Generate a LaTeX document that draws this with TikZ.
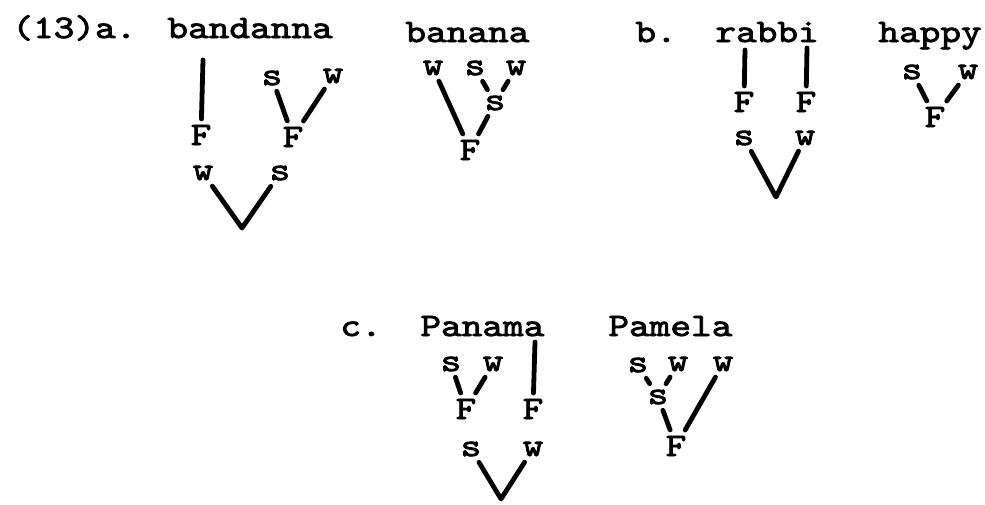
\documentclass[tikz,border=0pt]{standalone}
\usepackage{fontspec}
\usepackage{tikz}
\newfontfamily\twfont{lmmono10-regular.otf}[FakeStretch=1.2, FakeBold=2.4]
\tikzset{
  word/.style={font=\twfont\fontsize{16.4}{20}\selectfont, inner sep=0pt, anchor=base west},
  mk/.style={font=\twfont\fontsize{16.4}{20}\selectfont, inner sep=2.8pt},
  br/.style={line width=2.4pt, line cap=round, line join=round}
}
\begin{document}
\begin{tikzpicture}[x=0.5pt, y=-0.5pt]
    \useasboundingbox (0,0) rectangle (985,504);

    % Words and item labels
    \node[word] (w13) at (12,38) {(13)a.};
    \foreach \n/\x/\y/\t in {wBandanna/167/38/bandanna, wBanana/405/42/banana, wB/635/42/b., wRabbi/715/42/rabbi, wHappy/878/42/happy, wC/340/336/c., wPanama/420/336/Panama, wPamela/608/336/Pamela} {
        \node[word] (\n) at (\x,\y) {\t};
    }

    % Tree labels (s, w, F)
    \foreach \n/\x/\y/\t in {bdF1/201/135/F, bdS1/272/78/s, bdW1/333/76/w, bdF2/293/137/F, bdW2/203/173/w, bdS2/280/173/s,
                            bnW1/433/68/w, bnS1/475/68/s, bnW2/516/68/w, bnS2/495/103/s, bnF/470/150/F,
                            rbF1/744/102/F, rbS/744/138/s, rbF2/806/102/F, rbW/805/138/w,
                            hpS/912/72/s, hpW/968/72/w, hpF/935/117/F,
                            pnS1/451/364/s, pnW1/493/364/w, pnF1/466/409/F, pnF2/533/409/F, pnS2/471/449/s, pnW2/533/449/w,
                            pmS1/638/365/s, pmW1/678/364/w, pmW2/723/364/w, pmS2/658/397/s, pmF/676/446/F} {
        \node[mk] (\n) at (\x,\y) {\t};
    }

    % Free ends of the branches
    \coordinate (bdTop) at (203,60);
    \coordinate (bdRoot) at (242,228);
    \coordinate (rbTop1) at (745,50);
    \coordinate (rbTop2) at (807,48);
    \coordinate (rbRoot) at (776,197);
    \coordinate (pnTop) at (535,342);
    \coordinate (pnRoot) at (501,499);

    % Branches
    \foreach \a/\b in {bdTop/bdF1, bdS1/bdF2, bdW1/bdF2,
                       bnW1/bnF, bnS1/bnS2, bnW2/bnS2, bnS2/bnF,
                       rbTop1/rbF1, rbTop2/rbF2,
                       hpS/hpF, hpW/hpF,
                       pnS1/pnF1, pnW1/pnF1, pnTop/pnF2,
                       pmS1/pmS2, pmW1/pmS2, pmS2/pmF, pmW2/pmF} {
        \draw[br] (\a) -- (\b);
    }

    % Feet
    \draw[br] (bdW2) -- (bdRoot) -- (bdS2);
    \draw[br] (rbS) -- (rbRoot) -- (rbW);
    \draw[br] (pnS2) -- (pnRoot) -- (pnW2);

\end{tikzpicture}
\end{document}
